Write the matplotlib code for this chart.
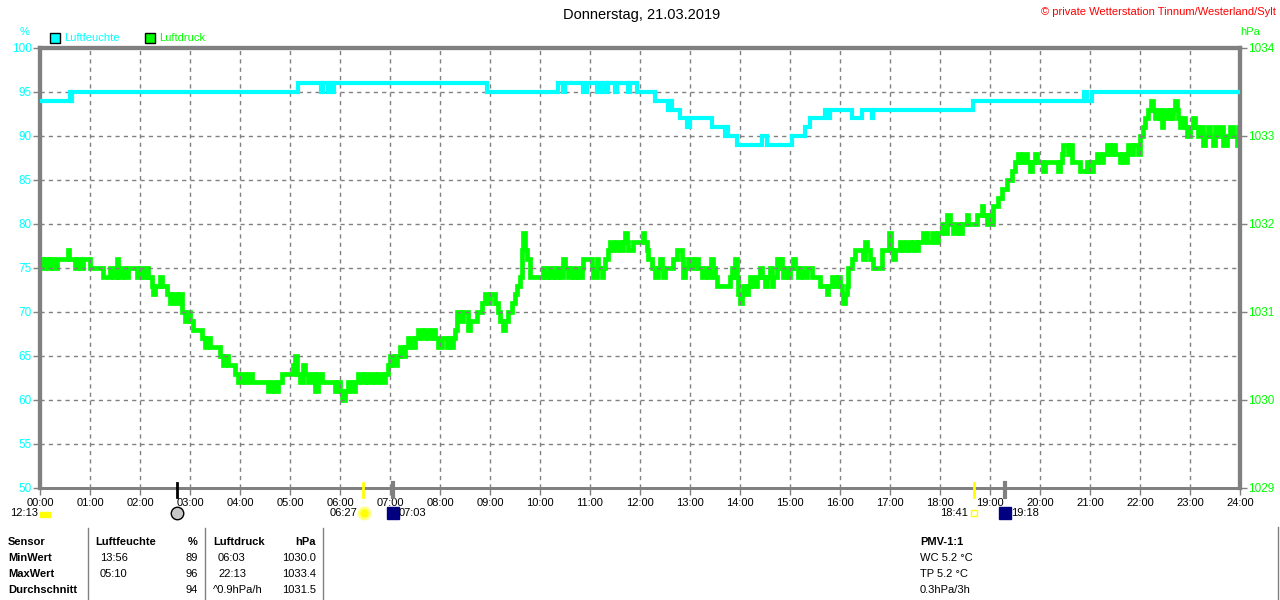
"""Tagesgrafik Luftfeuchte / Luftdruck -- Wetterstation Tinnum."""
import matplotlib

matplotlib.use("Agg")
import matplotlib.pyplot as plt
from matplotlib.transforms import blended_transform_factory
import numpy as np

plt.rcParams["font.family"] = ["Liberation Sans", "DejaVu Sans"]

TITLE = "Donnerstag, 21.03.2019"
COPYRIGHT = "© private Wetterstation Tinnum/Westerland/Sylt"

# humidity: step series, (minute of day, percent)
hum_min = [0, 36, 37, 38, 309, 337, 339, 346, 349, 351, 353, 356, 537, 622, 628,
           630, 652, 656, 668, 670, 674, 676, 680, 682, 690, 692, 705, 708, 716,
           738, 753, 756, 758, 768, 776, 780, 806, 822, 824, 826, 836, 866, 872,
           902, 918, 924, 942, 946, 948, 974, 986, 998, 1000, 1120, 1253, 1256,
           1262, 1440]
hum_val = [94, 95, 94, 95, 96, 95, 96, 95, 96, 95, 96, 96, 95, 96, 95,
           96, 95, 96, 95, 96, 95, 96, 95, 96, 95, 96, 95, 96, 95,
           94, 93, 94, 93, 92, 91, 92, 91, 90, 91, 90, 89, 90, 89,
           90, 91, 92, 93, 92, 93, 92, 93, 92, 93, 94, 95, 94,
           95, 95]

# pressure: step series, (minute of day, hPa)
pres_min = [0, 3, 6, 9, 12, 15, 20, 33, 35, 42, 45, 48, 52, 60, 76, 84, 88, 92,
            94, 98, 102, 106, 116, 120, 124, 128, 130, 134, 136, 138, 144, 146,
            152, 156, 160, 164, 168, 170, 174, 178, 180, 184, 194, 198, 200, 204,
            216, 220, 222, 226, 234, 238, 242, 246, 250, 254, 274, 278, 282, 286,
            290, 304, 306, 308, 312, 316, 318, 322, 326, 330, 334, 338, 354, 358,
            360, 362, 366, 370, 374, 378, 382, 386, 390, 394, 398, 402, 406, 410,
            414, 418, 420, 424, 428, 432, 434, 438, 442, 446, 450, 454, 458, 462,
            466, 470, 474, 478, 482, 488, 490, 494, 496, 498, 500, 504, 508, 514,
            516, 524, 530, 534, 538, 540, 546, 550, 552, 556, 558, 562, 566, 570,
            572, 576, 578, 580, 582, 584, 588, 604, 606, 610, 612, 616, 618, 622,
            624, 628, 630, 634, 638, 640, 644, 646, 650, 652, 662, 664, 668, 670,
            674, 676, 678, 682, 684, 688, 692, 696, 700, 702, 704, 706, 712, 723,
            725, 728, 730, 734, 738, 742, 744, 746, 748, 750, 760, 764, 770, 772,
            774, 778, 782, 786, 790, 794, 798, 802, 805, 807, 810, 812, 828, 830,
            832, 834, 836, 838, 840, 842, 844, 846, 850, 852, 856, 860, 864, 866,
            870, 872, 876, 878, 880, 884, 886, 888, 890, 892, 894, 898, 900, 904,
            906, 910, 912, 916, 920, 926, 936, 944, 946, 950, 954, 958, 960, 962,
            964, 966, 968, 970, 974, 978, 988, 990, 992, 996, 1000, 1010, 1019,
            1021, 1024, 1026, 1032, 1036, 1040, 1044, 1048, 1052, 1054, 1060,
            1064, 1070, 1074, 1078, 1082, 1086, 1088, 1092, 1096, 1100, 1104,
            1106, 1112, 1114, 1124, 1130, 1132, 1136, 1138, 1142, 1144, 1150,
            1154, 1160, 1166, 1170, 1174, 1176, 1180, 1184, 1188, 1190, 1194,
            1196, 1204, 1206, 1222, 1224, 1226, 1228, 1234, 1236, 1238, 1248,
            1256, 1258, 1260, 1262, 1264, 1268, 1272, 1276, 1280, 1284, 1286,
            1290, 1296, 1298, 1302, 1304, 1306, 1310, 1312, 1318, 1320, 1324,
            1326, 1330, 1333, 1335, 1338, 1342, 1344, 1346, 1348, 1352, 1356,
            1358, 1360, 1362, 1364, 1366, 1368, 1372, 1374, 1376, 1380, 1384,
            1386, 1390, 1392, 1396, 1398, 1402, 1404, 1408, 1410, 1414, 1418,
            1420, 1424, 1428, 1432, 1436, 1438, 1440]
pres_val = [1031.6, 1031.5, 1031.6, 1031.5, 1031.6, 1031.5, 1031.6, 1031.7, 1031.6,
            1031.5, 1031.6, 1031.5, 1031.6, 1031.5, 1031.4, 1031.5, 1031.4, 1031.6,
            1031.4, 1031.5, 1031.4, 1031.5, 1031.4, 1031.5, 1031.4, 1031.5, 1031.4,
            1031.3, 1031.2, 1031.3, 1031.4, 1031.3, 1031.2, 1031.1, 1031.2, 1031.1,
            1031.2, 1031.0, 1030.9, 1031.0, 1030.9, 1030.8, 1030.7, 1030.6, 1030.7,
            1030.6, 1030.5, 1030.4, 1030.5, 1030.4, 1030.3, 1030.2, 1030.3, 1030.2,
            1030.3, 1030.2, 1030.1, 1030.2, 1030.1, 1030.2, 1030.3, 1030.4, 1030.5,
            1030.3, 1030.2, 1030.4, 1030.3, 1030.2, 1030.3, 1030.1, 1030.3, 1030.2,
            1030.1, 1030.2, 1030.1, 1030.0, 1030.1, 1030.2, 1030.1, 1030.2, 1030.3,
            1030.2, 1030.3, 1030.2, 1030.3, 1030.2, 1030.3, 1030.2, 1030.3, 1030.4,
            1030.5, 1030.4, 1030.5, 1030.6, 1030.5, 1030.6, 1030.7, 1030.6, 1030.7,
            1030.8, 1030.7, 1030.8, 1030.7, 1030.8, 1030.7, 1030.6, 1030.7, 1030.6,
            1030.7, 1030.6, 1030.7, 1030.8, 1031.0, 1030.9, 1031.0, 1030.8, 1030.9,
            1031.0, 1031.1, 1031.2, 1031.1, 1031.2, 1031.1, 1031.0, 1030.9, 1030.8,
            1030.9, 1031.0, 1031.1, 1031.2, 1031.3, 1031.4, 1031.7, 1031.9, 1031.7,
            1031.6, 1031.4, 1031.5, 1031.4, 1031.5, 1031.4, 1031.5, 1031.4, 1031.5,
            1031.4, 1031.6, 1031.5, 1031.4, 1031.5, 1031.4, 1031.5, 1031.4, 1031.5,
            1031.6, 1031.5, 1031.4, 1031.6, 1031.5, 1031.4, 1031.5, 1031.6, 1031.7,
            1031.8, 1031.7, 1031.8, 1031.7, 1031.8, 1031.9, 1031.8, 1031.7, 1031.8,
            1031.9, 1031.8, 1031.7, 1031.6, 1031.5, 1031.4, 1031.5, 1031.6, 1031.5,
            1031.4, 1031.5, 1031.6, 1031.7, 1031.6, 1031.4, 1031.5, 1031.6, 1031.5,
            1031.6, 1031.5, 1031.4, 1031.5, 1031.4, 1031.6, 1031.5, 1031.4, 1031.3,
            1031.4, 1031.5, 1031.4, 1031.6, 1031.4, 1031.2, 1031.1, 1031.2, 1031.3,
            1031.2, 1031.3, 1031.4, 1031.3, 1031.4, 1031.5, 1031.4, 1031.3, 1031.4,
            1031.5, 1031.3, 1031.4, 1031.6, 1031.5, 1031.6, 1031.5, 1031.4, 1031.5,
            1031.4, 1031.5, 1031.6, 1031.5, 1031.4, 1031.5, 1031.4, 1031.5, 1031.4,
            1031.3, 1031.2, 1031.3, 1031.4, 1031.3, 1031.4, 1031.3, 1031.2, 1031.1,
            1031.2, 1031.3, 1031.5, 1031.6, 1031.7, 1031.6, 1031.8, 1031.7, 1031.6,
            1031.5, 1031.7, 1031.9, 1031.7, 1031.6, 1031.7, 1031.8, 1031.7, 1031.8,
            1031.7, 1031.8, 1031.7, 1031.8, 1031.9, 1031.8, 1031.9, 1031.8, 1031.9,
            1032.0, 1031.9, 1032.1, 1032.0, 1031.9, 1032.0, 1031.9, 1032.0, 1032.1,
            1032.0, 1032.1, 1032.2, 1032.1, 1032.0, 1032.1, 1032.0, 1032.2, 1032.3,
            1032.4, 1032.5, 1032.6, 1032.7, 1032.8, 1032.7, 1032.8, 1032.7, 1032.6,
            1032.7, 1032.8, 1032.7, 1032.6, 1032.7, 1032.6, 1032.7, 1032.8, 1032.9,
            1032.8, 1032.9, 1032.7, 1032.6, 1032.7, 1032.6, 1032.7, 1032.6, 1032.7,
            1032.8, 1032.7, 1032.8, 1032.9, 1032.8, 1032.9, 1032.8, 1032.7, 1032.8,
            1032.7, 1032.8, 1032.9, 1032.8, 1032.9, 1032.8, 1033.0, 1033.1, 1033.2,
            1033.3, 1033.4, 1033.3, 1033.2, 1033.3, 1033.2, 1033.1, 1033.3, 1033.2,
            1033.3, 1033.2, 1033.3, 1033.4, 1033.3, 1033.2, 1033.1, 1033.2, 1033.1,
            1033.0, 1033.1, 1033.2, 1033.1, 1033.0, 1033.1, 1032.9, 1033.0, 1033.1,
            1033.0, 1032.9, 1033.1, 1033.0, 1033.1, 1032.9, 1033.0, 1033.1, 1033.0,
            1032.9, 1033.1, 1033.0]

hour_labels = [f"{h:02d}:00" for h in range(25)]
hum_ticks = list(range(50, 101, 5))
pres_ticks = [1029, 1030, 1031, 1032, 1033, 1034]

# astro events below the time axis: (hour, colour)
event_hours = [2 + 44 / 60, 6 + 27 / 60, 7 + 3 / 60, 18 + 41 / 60, 19 + 18 / 60]
event_colors = ["black", "#ffff00", "#808080", "#ffff00", "#808080"]

# summary table
table_rows = ["Sensor", "MinWert", "MaxWert", "Durchschnitt"]
hum_times = ["", "13:56", "05:10", ""]
hum_stats = ["%", "89", "96", "94"]
pres_times = ["", "06:03", "22:13", "^0.9hPa/h"]
pres_stats = ["hPa", "1030.0", "1033.4", "1031.5"]
pmv_lines = ["PMV-1:1", "WC 5.2 °C", "TP 5.2 °C", "0.3hPa/3h"]

CYAN = "#00ffff"
GREEN = "#00ff00"
GRAY = "#808080"

W, H = 1280, 600
fig = plt.figure(figsize=(W / 100, H / 100), dpi=100)


def px(x, y):
    return x / W, 1 - y / H


ax = fig.add_axes([40 / W, 1 - 488 / H, 1200 / W, 440 / H])
ax2 = ax.twinx()

hx = np.array(hum_min) / 60
px_ = np.array(pres_min) / 60
ax.step(hx, hum_val, where="post", color=CYAN, lw=3.0, solid_joinstyle="miter",
        zorder=4)
ax2.step(px_, pres_val, where="post", color=GREEN, lw=3.4, solid_joinstyle="miter",
         zorder=5)

ax.set_xlim(0, 24)
ax.set_ylim(50, 100)
ax2.set_ylim(1029, 1034)
ax.set_xticks(range(25))
ax.set_xticklabels(hour_labels, fontsize=8)
ax.set_yticks(hum_ticks)
ax.set_yticklabels([str(v) for v in hum_ticks], fontsize=8.5, color=CYAN)
ax2.set_yticks(pres_ticks)
ax2.set_yticklabels([str(v) for v in pres_ticks], fontsize=8.5, color=GREEN)
ax.tick_params(axis="both", color=GRAY, length=5, width=1, pad=1)
ax.tick_params(axis="x", pad=2)
ax2.tick_params(axis="y", color=GRAY, length=5, width=1, pad=1)
ax.grid(True, color=GRAY, ls=(0, (3, 3)), lw=1)
ax.set_zorder(ax2.get_zorder() + 1)
ax.patch.set_visible(False)
for a in (ax, ax2):
    for side in ("left", "right", "top"):
        a.spines[side].set_color(GRAY)
        a.spines[side].set_linewidth(3)
    a.spines["bottom"].set_color(GRAY)
    a.spines["bottom"].set_linewidth(2)

# event markers on the time axis
tr = blended_transform_factory(ax.transData, ax.transAxes)
for hr, col in zip(event_hours, event_colors):
    w = 3 if col == GRAY else 2
    ax.plot([hr, hr], [0.012, -0.02], color=col, lw=w, transform=tr,
            clip_on=False, zorder=6)

# icons and times below axis
fig.text(*px(10, 513), "12:13", fontsize=8, va="center", ha="left")
fig.patches.append(plt.Rectangle(px(40, 517), 10 / W, 5 / H, color="#ffff00",
                                 transform=fig.transFigure))
ax.plot([event_hours[0]], [-0.057], marker="o", ms=9, mfc="#c8c8c8", mec="black",
        mew=1, transform=tr, clip_on=False)
fig.text(*px(357, 513), "06:27", fontsize=8, va="center", ha="right")
ax.plot([event_hours[1] + 0.03], [-0.057], marker="o", ms=8, mfc="#ffff00",
        mec="#ffff80", mew=2, transform=tr, clip_on=False)
ax.plot([event_hours[2]], [-0.057], marker="s", ms=8, mfc="#000080", mec="#000080",
        transform=tr, clip_on=False)
fig.text(*px(399, 513), "07:03", fontsize=8, va="center", ha="left")
fig.text(*px(968, 513), "18:41", fontsize=8, va="center", ha="right")
ax.plot([event_hours[3]], [-0.057], marker="s", ms=4, mfc="white", mec="#ffff00",
        mew=1, transform=tr, clip_on=False)
ax.plot([event_hours[4]], [-0.057], marker="s", ms=8, mfc="#000080", mec="#000080",
        transform=tr, clip_on=False)
fig.text(*px(1011, 513), "19:18", fontsize=8, va="center", ha="left")

# header
fig.text(*px(642, 15), TITLE, fontsize=10.5, ha="center", va="center")
fig.text(*px(1276, 12), COPYRIGHT, fontsize=8, ha="right", va="center",
         color="#ff0000")
fig.text(*px(25, 32), "%", fontsize=8, ha="center", va="center", color=CYAN)
fig.text(*px(1250, 32), "hPa", fontsize=8, ha="center", va="center", color=GREEN)
fig.patches.append(plt.Rectangle(px(50, 43), 10 / W, 10 / H, fc=CYAN, ec="black",
                                 lw=1, transform=fig.transFigure))
fig.text(*px(64, 38), "Luftfeuchte", fontsize=8, va="center", color=CYAN)
fig.patches.append(plt.Rectangle(px(145, 43), 10 / W, 10 / H, fc=GREEN, ec="black",
                                 lw=1, transform=fig.transFigure))
fig.text(*px(159, 38), "Luftdruck", fontsize=8, va="center", color=GREEN)

# summary table
row_y = [542, 558, 574, 590]
for i, y in enumerate(row_y):
    bold = "bold"
    fig.text(*px(8, y), table_rows[i], fontsize=8, weight=bold, va="center")
    fig.text(*px(198, y), hum_stats[i], fontsize=8, va="center", ha="right",
             weight=bold if i == 0 else "normal")
    fig.text(*px(316, y), pres_stats[i], fontsize=8, va="center", ha="right",
             weight=bold if i == 0 else "normal")
    if i == 0:
        fig.text(*px(95, y), "Luftfeuchte", fontsize=8, weight=bold, va="center")
        fig.text(*px(213, y), "Luftdruck", fontsize=8, weight=bold, va="center")
    else:
        fig.text(*px(100, y), hum_times[i], fontsize=8, va="center")
        xt = 213 if pres_times[i].startswith("^") else 218
        fig.text(*px(xt, y), pres_times[i], fontsize=8, va="center")
    fig.text(*px(920, y), pmv_lines[i], fontsize=8, va="center",
             weight=bold if i == 0 else "normal")
for xs in (88, 205, 323):
    fig.lines.append(plt.Line2D([xs / W, xs / W], [1 - 528 / H, 0], color=GRAY,
                                lw=1, transform=fig.transFigure))
fig.lines.append(plt.Line2D([1278 / W, 1278 / W], [1 - 527 / H, 0], color=GRAY,
                            lw=1, transform=fig.transFigure))

fig.savefig("out.png", dpi=100)
